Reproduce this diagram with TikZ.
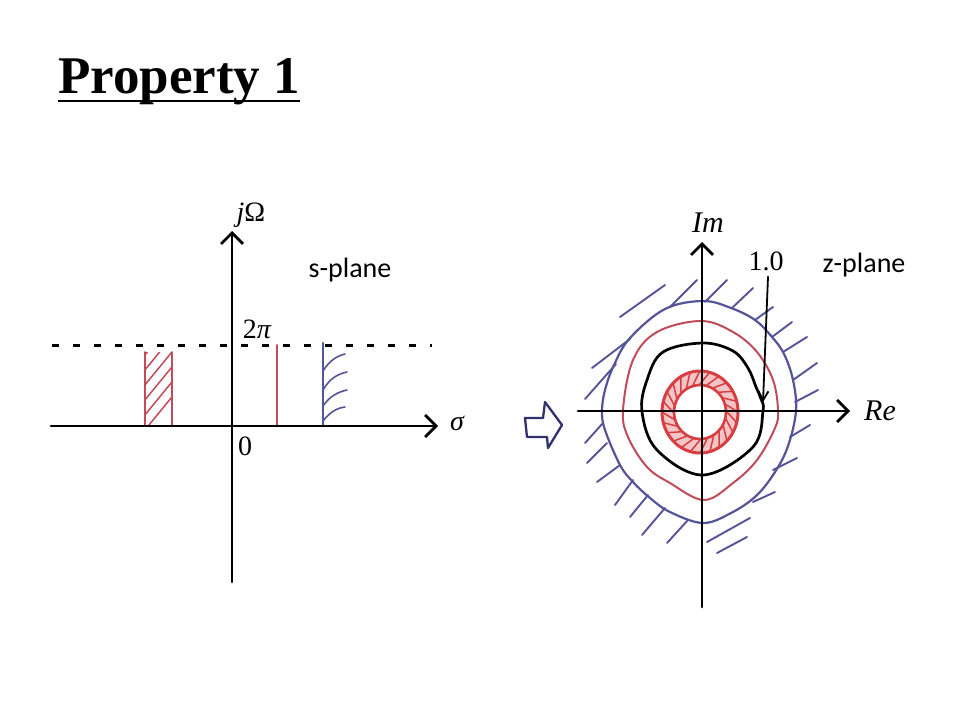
\documentclass[tikz,border=0pt]{standalone}
\usepackage{fontspec}
\newfontfamily\titlefont{Liberation Serif}
\newfontfamily\calib{Carlito}
\usetikzlibrary{arrows.meta}
\definecolor{pred}{RGB}{192,76,90}
\definecolor{pblue}{RGB}{86,84,152}
\definecolor{rring}{RGB}{214,62,66}
\definecolor{navy}{RGB}{50,48,110}
\begin{document}
\begin{tikzpicture}[x=1pt,y=-1pt,line cap=round,line join=round,
  axis/.style={line width=2.7pt,-{Straight Barb[length=11pt,width=22pt]}},
  lbl/.style={inner sep=0pt,font=\titlefont\fontsize{28}{32}\selectfont},
  sans/.style={inner sep=0pt,font=\calib\fontsize{28}{32}\selectfont},
  redpen/.style={pred,line width=2pt},
  bluepen/.style={pblue,line width=2.2pt},
  hatchb/.style={pblue,line width=1.9pt},
  hatchr/.style={pred,line width=1.5pt}]
\fill[white] (0,0) rectangle (960,720);
\useasboundingbox (0,0) rectangle (960,720);

% title
\node[anchor=base west,inner sep=0pt,font=\titlefont\bfseries\fontsize{53}{60}\selectfont] (title) at (58,93) {Property 1};
\draw[line width=2.6pt,line cap=butt] ([yshift=-8pt]title.base west) -- ([yshift=-8pt]title.base east);

% ---------- s-plane ----------
\draw[line width=3pt,dash pattern=on 7pt off 14pt,line cap=butt] (52,345) -- (432,345);
% red hatched strip
\begin{scope}
  \clip (145,352) rectangle (172,426);
  \foreach \k in {0,...,6} \draw[hatchr] (140,436-\k*15) -- ++(36,-44);
\end{scope}
\draw[redpen] (145,426) -- (145,352);
\draw[redpen] (172,426) -- (172,352);
% red line
\draw[redpen] (277,345) -- (277,426);
% blue line with hatches
\draw[bluepen] (323,343) -- (323,426);
\draw[hatchb,line width=1.6pt] (323,371) .. controls (330,360) and (337,356) .. (345,354);
\draw[hatchb,line width=1.6pt] (323,390) .. controls (330,378) and (338,374) .. (347,372);
\draw[hatchb,line width=1.6pt] (323,406) .. controls (330,396) and (338,392) .. (347,390);
\draw[hatchb,line width=1.6pt] (323,421) .. controls (330,412) and (337,408) .. (345,407);
% axes
\draw[axis] (51,426) -- (438,426);
\draw[axis] (232,582) -- (232,231);
% labels
\node[lbl] (jO) at (251,215) {\itshape j\upshape Ω};
\node[lbl] (twopi) at (257,329) {2\itshape π};
\node[lbl] (zero) at (245,446) {0};
\node[lbl] (sigma) at (457,423) {\itshape σ};
\node[sans] (splane) at (350,270) {s-plane};

% ---------- block arrow ----------
\draw[navy,line width=2.3pt] (525,418) -- (543,418) -- (545,402) -- (562,425) -- (548,448) -- (547,437) -- (527,437) -- cycle;

% ---------- z-plane ----------
% inner hatched ring
\fill[rring!30,even odd rule] (700,412) ellipse [x radius=38,y radius=41] (700,412) ellipse [x radius=26,y radius=27];
\foreach \a in {0,15,...,345}
  \draw[rring,line width=1.5pt] ([shift={(700,412)}]\a:27 and 28) -- ([shift={(700,412)}]\a+14:37 and 40);
\draw[rring,line width=3pt] (700,412) ellipse [x radius=38,y radius=41];
\draw[rring,line width=2.6pt] (700,412) ellipse [x radius=26,y radius=27];
% black unit circle
\draw[line width=2.7pt] plot[smooth cycle,tension=0.6] coordinates {(703,343) (733,351) (748,368) (756,387) (761,399) (763,411) (753,447) (703,475) (657,450) (642,412) (647,380) (663,352)};
% red middle contour
\draw[redpen] plot[smooth cycle,tension=0.6] coordinates {(701,321) (733,332) (757,352) (773,380) (778,410) (775,428) (757,460) (733,483) (704,500) (670,483) (647,467) (628,437) (623,410) (633,360) (657,332)};
% blue outer contour
\draw[bluepen] plot[smooth cycle,tension=0.6] coordinates {(703,301) (731,308) (755,320) (772,337) (784,354) (793,380) (796,411) (788,446) (775,472) (756,496) (731,513) (703,523) (670,512) (650,498) (633,482) (620,465) (605,430) (602,411) (605,390) (614,365) (630,338) (665,309)};
% blue hatches
\foreach \p/\q in {
  {(585,399)}/{(616,364)}, {(592,368)}/{(630,339)}, {(620,317)}/{(665,285)}, {(670,307)}/{(697,280)},
  {(705,302)}/{(727,280)}, {(732,308)}/{(753,288)}, {(755,320)}/{(773,307)}, {(772,337)}/{(792,322)},
  {(783,352)}/{(807,337)}, {(793,380)}/{(817,363)}, {(795,402)}/{(818,390)},
  {(603,423)}/{(585,443)}, {(607,443)}/{(587,463)}, {(620,465)}/{(597,482)}, {(633,480)}/{(615,505)},
  {(648,495)}/{(630,517)}, {(665,508)}/{(642,535)}, {(688,520)}/{(667,543)},
  {(810,425)}/{(790,437)}, {(797,458)}/{(773,470)}, {(775,492)}/{(753,502)}, {(750,518)}/{(707,542)}, {(747,537)}/{(717,553)}}
  \draw[hatchb] \p -- \q;
% axes
\draw[axis] (578,411) -- (850,411);
\draw[axis] (702,607) -- (702,242);
% labels
\node[lbl,font=\titlefont\itshape\fontsize{30}{34}\selectfont] (Im) at (708,223) {Im};
\node[lbl,font=\titlefont\itshape\fontsize{30}{34}\selectfont] (Re) at (880,411) {Re};
\node[lbl] (one) at (766,261) {1.0};
\node[sans] (zplane) at (864,265) {z-plane};
\coordinate (tip) at (763,402);
\draw[line width=1.8pt,-{Straight Barb[length=9pt,width=10pt]}] ([xshift=2pt,yshift=-6pt]one.south) -- (tip);
\end{tikzpicture}
\end{document}
